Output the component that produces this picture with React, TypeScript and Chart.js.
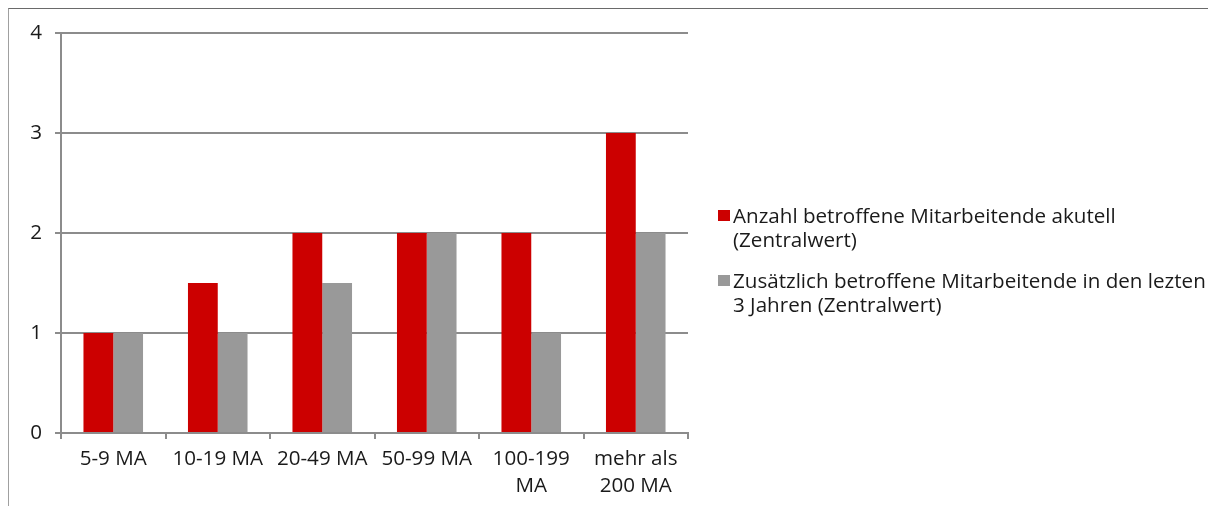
import React, { useEffect, useRef } from "react";
import { Chart, registerables } from "chart.js";

Chart.register(...registerables);

const categories: (string | string[])[] = [
  "5-9 MA",
  "10-19 MA",
  "20-49 MA",
  "50-99 MA",
  ["100-199", "MA"],
  ["mehr als", "200 MA"],
];
const akutell = [1, 1.5, 2, 2, 2, 3];
const zusaetzlich = [1, 1, 1.5, 2, 1, 2];
const seriesLabels = [
  ["Anzahl betroffene Mitarbeitende akutell", "(Zentralwert)"],
  ["Zusätzlich betroffene Mitarbeitende in den lezten", "3 Jahren (Zentralwert)"],
];
const yTicks = [0, 1, 2, 3, 4];

const FONT = "'Open Sans', 'Noto Sans', sans-serif";
const FSIZE = 20.6;
const RED = "#cc0000";
const GRAY = "#999999";
const LINE = "#8c8c8c";

const legendPlugin = {
  id: "wrapLegend",
  afterDraw(chart: any) {
    const ctx = chart.ctx;
    ctx.save();
    ctx.font = `${FSIZE}px ${FONT}`;
    ctx.fillStyle = "#1a1a1a";
    ctx.textBaseline = "alphabetic";
    ctx.textAlign = "left";
    const x0 = 718;
    const startBaseline = 223;
    const itemGap = 65;
    const lineGap = 24;
    chart.data.datasets.forEach((ds: any, i: number) => {
      const base = startBaseline + i * itemGap;
      ctx.fillStyle = ds.backgroundColor;
      ctx.fillRect(x0, base - 13, 12, 11);
      ctx.fillStyle = "#1a1a1a";
      const lines: string[] = ds.wrapLabel;
      lines.forEach((t: string, j: number) => {
        ctx.fillText(t, x0 + 15, base + j * lineGap);
      });
    });
    ctx.restore();
  },
};

export default function App() {
  const ref = useRef<HTMLCanvasElement | null>(null);
  useEffect(() => {
    if (!ref.current) return;
    const chart = new Chart(ref.current, {
      type: "bar",
      data: {
        labels: categories as any,
        datasets: [
          {
            label: seriesLabels[0].join(" "),
            wrapLabel: seriesLabels[0],
            data: akutell,
            backgroundColor: RED,
            categoryPercentage: 0.57,
            barPercentage: 1,
          } as any,
          {
            label: seriesLabels[1].join(" "),
            wrapLabel: seriesLabels[1],
            data: zusaetzlich,
            backgroundColor: GRAY,
            categoryPercentage: 0.57,
            barPercentage: 1,
          } as any,
        ],
      },
      options: {
        responsive: false,
        animation: false,
        maintainAspectRatio: false,
        layout: { padding: { left: 0, top: 33, right: 1208 - 688, bottom: 0 } },
        plugins: {
          legend: { display: false },
          tooltip: { enabled: false },
        },
        scales: {
          x: {
            offset: true,
            grid: {
              display: true,
              offset: true,
              drawOnChartArea: false,
              drawTicks: true,
              tickLength: 6,
              color: LINE,
              lineWidth: 2,
            },
            border: { display: true, color: LINE, width: 2 },
            ticks: {
              color: "#1a1a1a",
              font: { family: FONT, size: FSIZE, lineHeight: 1.34 },
              padding: 6,
              maxRotation: 0,
              autoSkip: false,
            },
            afterFit: (s: any) => {
              s.height = 506 - 433;
            },
          },
          y: {
            min: 0,
            max: 4,
            afterBuildTicks: (s: any) => {
              s.ticks = yTicks.map((v) => ({ value: v }));
            },
            grid: {
              color: LINE,
              lineWidth: 2,
              tickLength: 6,
              drawTicks: true,
            },
            border: { display: true, color: LINE, width: 2 },
            ticks: {
              color: "#1a1a1a",
              font: { family: FONT, size: FSIZE },
              padding: 13,
            },
            afterFit: (s: any) => {
              s.width = 61;
            },
          },
        },
      },
      plugins: [legendPlugin],
    });
    return () => chart.destroy();
  }, []);

  return (
    <div
      style={{
        position: "fixed",
        left: 0,
        top: 0,
        width: 1208,
        height: 506,
        overflow: "hidden",
        background: "#fff",
      }}
    >
      <canvas
        ref={ref}
        width={1208}
        height={506}
        style={{ position: "absolute", left: 0, top: 0, width: 1208, height: 506 }}
      />
      <div
        style={{
          position: "absolute",
          left: 8,
          top: 8,
          width: 1210,
          height: 510,
          borderTop: "1px solid #6a6a6a",
          borderLeft: "1px solid #a0a0a0",
          pointerEvents: "none",
        }}
      />
    </div>
  );
}
